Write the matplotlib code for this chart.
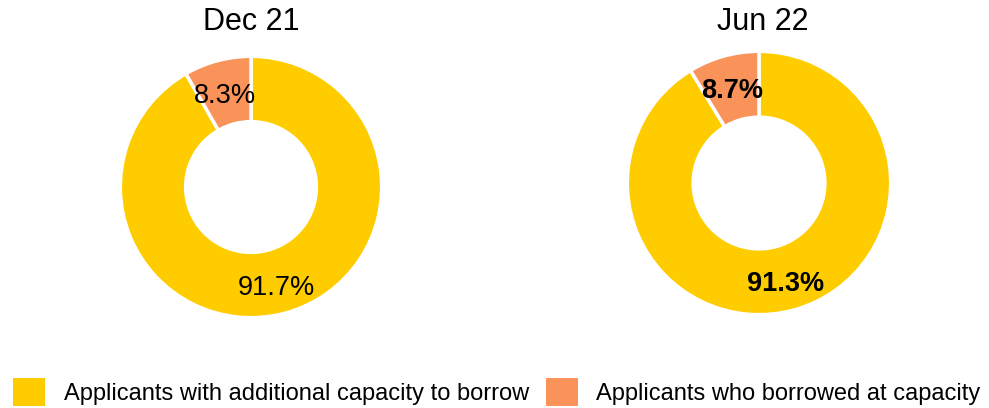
import matplotlib
matplotlib.use("Agg")
import matplotlib.pyplot as plt
from matplotlib.patches import Patch

plt.rcParams['font.family'] = ['Liberation Sans', 'DejaVu Sans']

categories = ["Applicants with additional capacity to borrow",
              "Applicants who borrowed at capacity"]
periods = ["Dec 21", "Jun 22"]
dec21 = [91.7, 8.3]
jun22 = [91.3, 8.7]
colors = ["#FFCC00", "#F9935A"]

W, H = 989, 408
fig = plt.figure(figsize=(W / 100, H / 100), dpi=100)


def donut(cx, cy, r, values, title, title_x, weight):
    ax = fig.add_axes([(cx - r) / W, (H - cy - r) / H, 2 * r / W, 2 * r / H])
    wedges, texts, autotexts = ax.pie(
        values, colors=colors, startangle=90, counterclock=False,
        radius=1.0, autopct=lambda p: f"{p:.1f}%", pctdistance=0.76,
        wedgeprops=dict(width=0.5, edgecolor="white", linewidth=2.5),
        textprops=dict(fontsize=19.5, color="black", weight=weight))
    # nudge the percentage labels slightly downward
    for t in autotexts:
        x, y = t.get_position()
        t.set_position((x, y - 0.035))
    ax.set_xlim(-1.01, 1.01)
    ax.set_ylim(-1.01, 1.01)
    ax.set_aspect("equal")
    ax.axis("off")
    fig.text(title_x / W, 1 - 22 / H, title, ha="center", va="center",
             fontsize=22)


donut(251, 187, 132, dec21, periods[0], 251, "normal")
donut(759, 183, 133, jun22, periods[1], 763, "bold")

handles = [Patch(facecolor=c, edgecolor="none") for c in colors]
fig.legend(handles, categories, loc="center", ncol=2,
           bbox_to_anchor=(497 / W, 1 - 392 / H), frameon=False,
           fontsize=17, handlelength=1.35, handleheight=1.5,
           handletextpad=0.8, columnspacing=0.7, borderaxespad=0)

fig.savefig("out.png", dpi=100)
